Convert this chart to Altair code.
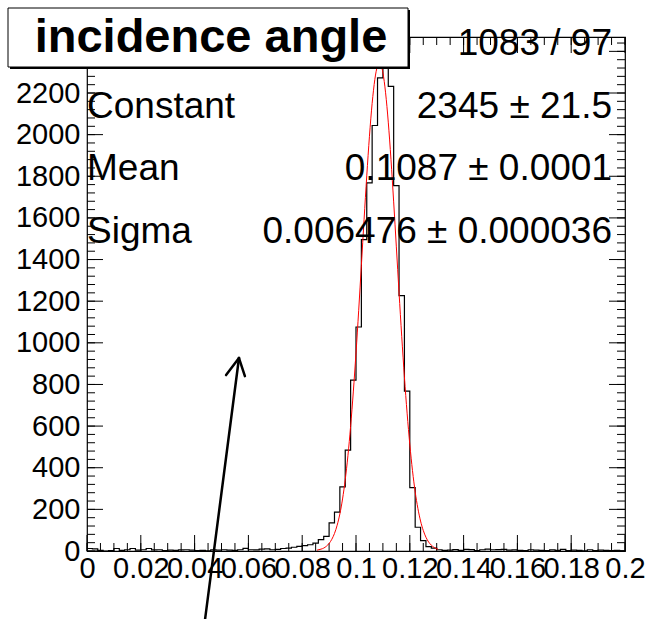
import altair as alt
import pandas as pd

# ---------------- data ----------------
bin_lo, bin_hi, n_bins = 0.0, 0.2, 100
counts = [
    12, 10, 3, 0, 2, 12, 3, 6, 12, 4,
    6, 12, 5, 6, 2, 4, 3, 5, 6, 4,
    2, 3, 1, 5, 4, 6, 4, 3, 6, 13,
    6, 5, 9, 10, 6, 8, 12, 14, 18, 22,
    26, 30, 38, 55, 70, 135, 187, 308, 485, 821,
    1076, 1496, 1768, 2044, 2273, 2345, 2232, 1755, 1227, 768,
    304, 114, 50, 21, 14, 6, 3, 4, 7, 3,
    8, 7, 2, 6, 9, 6, 7, 8, 4, 5,
    3, 2, 6, 4, 3, 2, 5, 3, 8, 2,
    4, 3, 1, 6, 2, 4, 3, 2, 3, 1,
]

fit_x = [0.0855, 0.087, 0.088, 0.089, 0.090, 0.091, 0.092, 0.093, 0.094, 0.095,
         0.096, 0.097, 0.098, 0.099, 0.100, 0.101, 0.102, 0.103, 0.104, 0.105,
         0.106, 0.107, 0.108, 0.1087, 0.110, 0.111, 0.112, 0.113, 0.114, 0.115,
         0.116, 0.117, 0.118, 0.119, 0.120, 0.121, 0.122, 0.123, 0.124, 0.125,
         0.126, 0.127, 0.128, 0.129, 0.1305]
fit_y = [4, 9, 14, 23, 36, 56, 84, 124, 178, 250,
         343, 458, 599, 764, 951, 1156, 1373, 1592, 1802, 1992,
         2150, 2265, 2331, 2345, 2298, 2201, 2060, 1881, 1677, 1461,
         1242, 1031, 836, 662, 512, 386, 284, 205, 144, 99,
         66, 43, 28, 17, 8]

x_tick_labels = [0, 0.02, 0.04, 0.06, 0.08, 0.1, 0.12, 0.14, 0.16, 0.18, 0.2]
y_tick_labels = [0, 200, 400, 600, 800, 1000, 1200, 1400, 1600, 1800, 2000, 2200, 2400]
x_minor_ticks = [i * 0.005 for i in range(41)]
y_minor_ticks = [i * 40 for i in range(62)]
y_max = 2469

title_text = "incidence angle"
stat_names = ["\u03c7\u00b2 / ndf", "Constant", "Mean", "Sigma"]
stat_values = ["1083 / 97", "2345 \u00b1 21.5", "0.1087 \u00b1 0.0001", "0.006476 \u00b1 0.000036"]

# annotation arrow in data units (tail -> tip, and the two head strokes)
arrow_x = [0.0439, 0.0517, 0.0587]
arrow_y = [-327, 845, 840]
arrow_tip = (0.0565, 927)

# ---------------- layout ----------------
W, H = 538, 514
FONT = "Liberation Sans"

bw = (bin_hi - bin_lo) / n_bins
edges = [bin_lo + i * bw for i in range(n_bins + 1)]
hist_df = pd.DataFrame({"x": edges, "y": counts + [counts[-1]]})
fit_df = pd.DataFrame({"x": fit_x, "y": fit_y})

xs = alt.Scale(domain=[bin_lo, bin_hi], nice=False, zero=False)
ys = alt.Scale(domain=[0, y_max], nice=False, zero=False)

x_axis = alt.Axis(values=x_tick_labels, format="~g", labelFont=FONT, labelFontSize=29,
                  labelColor="black", ticks=False, tickSize=0, domain=False, grid=False,
                  title=None, labelPadding=3, labelOverlap=False, labelFlush=False,
                  labelBound=False)
y_axis = alt.Axis(values=y_tick_labels, format="d", labelFont=FONT, labelFontSize=29,
                  labelColor="black", ticks=False, tickSize=0, domain=False, grid=False,
                  title=None, labelPadding=7, labelOverlap=False, labelFlush=False,
                  labelBound=False)

def X(field):
    return alt.X(field, scale=xs, axis=x_axis, title=None)

def Y(field):
    return alt.Y(field, scale=ys, axis=y_axis, title=None)

hist = alt.Chart(hist_df).mark_line(interpolate="step-after", color="black",
                                    strokeWidth=1.2).encode(x=X("x:Q"), y=Y("y:Q"))

fit = alt.Chart(fit_df).mark_line(interpolate="monotone", color="#ff0000",
                                  strokeWidth=1).encode(x=X("x:Q"), y=Y("y:Q"))

def yticks(vals, x0, x1):
    return alt.Chart(pd.DataFrame({"v": vals})).mark_rule(color="black", strokeWidth=1).encode(
        y=Y("v:Q"), x=alt.value(x0), x2=alt.value(x1))

def xticks(vals, y0, y1):
    return alt.Chart(pd.DataFrame({"v": vals})).mark_rule(color="black", strokeWidth=1).encode(
        x=X("v:Q"), y=alt.value(y0), y2=alt.value(y1))

ticks = [
    yticks(y_minor_ticks, 0, 8), yticks(y_tick_labels, 0, 16),
    yticks(y_minor_ticks, W - 8, W), yticks(y_tick_labels, W - 16, W),
    xticks(x_minor_ticks, H - 8, H), xticks(x_tick_labels, H - 16, H),
    xticks(x_minor_ticks, 0, 8), xticks(x_tick_labels, 0, 16),
]

# stats text
row_base = [18, 80.5, 143, 205.5]
stats = []
for name, val, yb in zip(stat_names, stat_values, row_base):
    stats.append(alt.Chart(pd.DataFrame({"t": [name]})).mark_text(
        font=FONT, fontSize=37, align="left", baseline="alphabetic", color="black").encode(
        text="t:N", x=alt.value(0), y=alt.value(yb)))
    stats.append(alt.Chart(pd.DataFrame({"t": [val]})).mark_text(
        font=FONT, fontSize=37, align="right", baseline="alphabetic", color="black").encode(
        text="t:N", x=alt.value(525), y=alt.value(yb)))

# title box
one = pd.DataFrame({"t": [title_text]})
shadow = alt.Chart(one).mark_rect(color="black").encode(
    x=alt.value(-77), x2=alt.value(323), y=alt.value(-27), y2=alt.value(32))
box = alt.Chart(one).mark_rect(fill="white", stroke="black", strokeWidth=1).encode(
    x=alt.value(-79), x2=alt.value(321), y=alt.value(-29), y2=alt.value(30))
title = alt.Chart(one).mark_text(font=FONT, fontSize=47, fontWeight="bold", align="center",
                                 baseline="alphabetic", color="black").encode(
    text="t:N", x=alt.value(124), y=alt.value(15))

# arrow
arrow_df = pd.DataFrame({"x": arrow_x, "y": arrow_y,
                         "x2": [arrow_tip[0]] * 3, "y2": [arrow_tip[1]] * 3})
arrow = alt.Chart(arrow_df).mark_rule(color="black", strokeWidth=2.5, strokeCap="round").encode(
    x=X("x:Q"), y=Y("y:Q"), x2="x2:Q", y2="y2:Q")

chart = alt.layer(hist, *ticks, fit, *stats, shadow, box, title, arrow).properties(
    width=W, height=H,
    autosize=alt.AutoSizeParams(type="none"),
    padding={"left": 87, "top": 37, "right": 21, "bottom": 68},
    background="white",
).configure_view(stroke="black", strokeWidth=1.2)

chart.save("out.html", embed_options={"renderer": "svg", "actions": False})
